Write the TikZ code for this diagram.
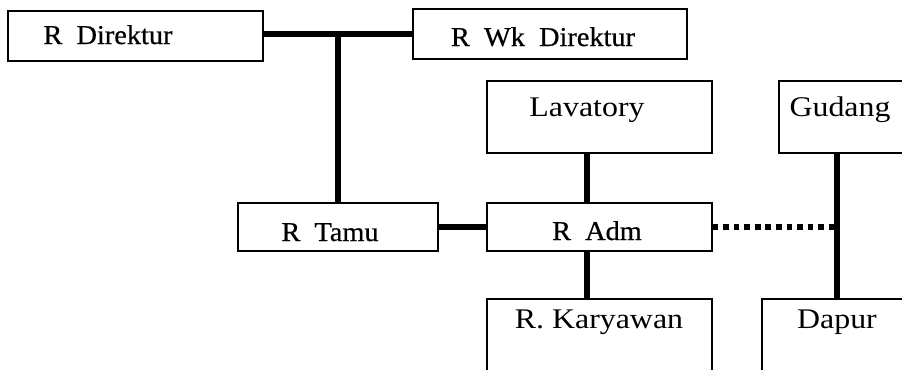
\documentclass[tikz,border=0pt]{standalone}
\usepackage{fontspec}
\setmainfont{Liberation Serif}
\newfontfamily\lblfont[FakeStretch=1.12]{Liberation Serif}
\newfontfamily\topfont[FakeStretch=1.04,FakeBold=0.6]{Liberation Serif}
\begin{document}
\begin{tikzpicture}[x=0.02cm,y=-0.02cm,
  room/.style={draw=black,line width=0.8pt,inner sep=0pt,minimum width=#1},
  toptxt/.style={anchor=base,font=\topfont\fontsize{15.5}{18}\selectfont,inner sep=0pt},
  lowtxt/.style={anchor=base,font=\lblfont\fontsize{16.2}{19}\selectfont,inner sep=0pt},
  link/.style={line width=2.9pt},
  dotlink/.style={line width=3pt,dash pattern=on 3.2pt off 2.8pt}]
\useasboundingbox (0,0) rectangle (902,369);
\clip (0,0) rectangle (902,369);
% boxes
\node[room=255*0.02cm,minimum height=50*0.02cm] (dir) at (135.5,36) {};
\node[room=274*0.02cm,minimum height=50*0.02cm] (wk) at (550,34) {};
\node[room=225*0.02cm,minimum height=72*0.02cm] (lav) at (599.5,117) {};
\node[room=160*0.02cm,minimum height=72*0.02cm] (gud) at (859,117) {};
\node[room=200*0.02cm,minimum height=48*0.02cm] (tamu) at (338,227) {};
\node[room=225*0.02cm,minimum height=48*0.02cm] (adm) at (599.5,227) {};
\node[room=225*0.02cm,minimum height=120*0.02cm] (kar) at (599.5,359) {};
\node[room=180*0.02cm,minimum height=120*0.02cm] (dap) at (852,359) {};
% texts
\node[toptxt] (tdir) at (108,44) {R\ \ Direktur};
\node[toptxt] (twk) at (543,46) {R\ \ Wk\ \ Direktur};
\node[lowtxt] (tlav) at (587,116) {Lavatory};
\node[lowtxt] (tgud) at (840,116) {Gudang};
\node[toptxt] (ttamu) at (330,241) {R\ \ Tamu};
\node[toptxt] (tadm) at (597,240) {R\ \ Adm};
\node[lowtxt] (tkar) at (599,328) {R. Karyawan};
\node[lowtxt] (tdap) at (837,328) {Dapur};
% connectors
\coordinate (gx) at (837,0);
\coordinate (lx) at (587,0);
\draw[link] (dir.east |- 0,34) -- (wk.west);
\draw[link] (tamu.north) -- (tamu.north |- wk.west);
\draw[link] (tamu.east) -- (adm.west);
\draw[link] (lav.south -| lx) -- (adm.north -| lx);
\draw[link] (adm.south -| lx) -- (kar.north -| lx);
\draw[link] (gud.south -| gx) -- (dap.north -| gx);
\draw[dotlink] (adm.east) -- (adm.east -| gx);
\end{tikzpicture}
\end{document}
